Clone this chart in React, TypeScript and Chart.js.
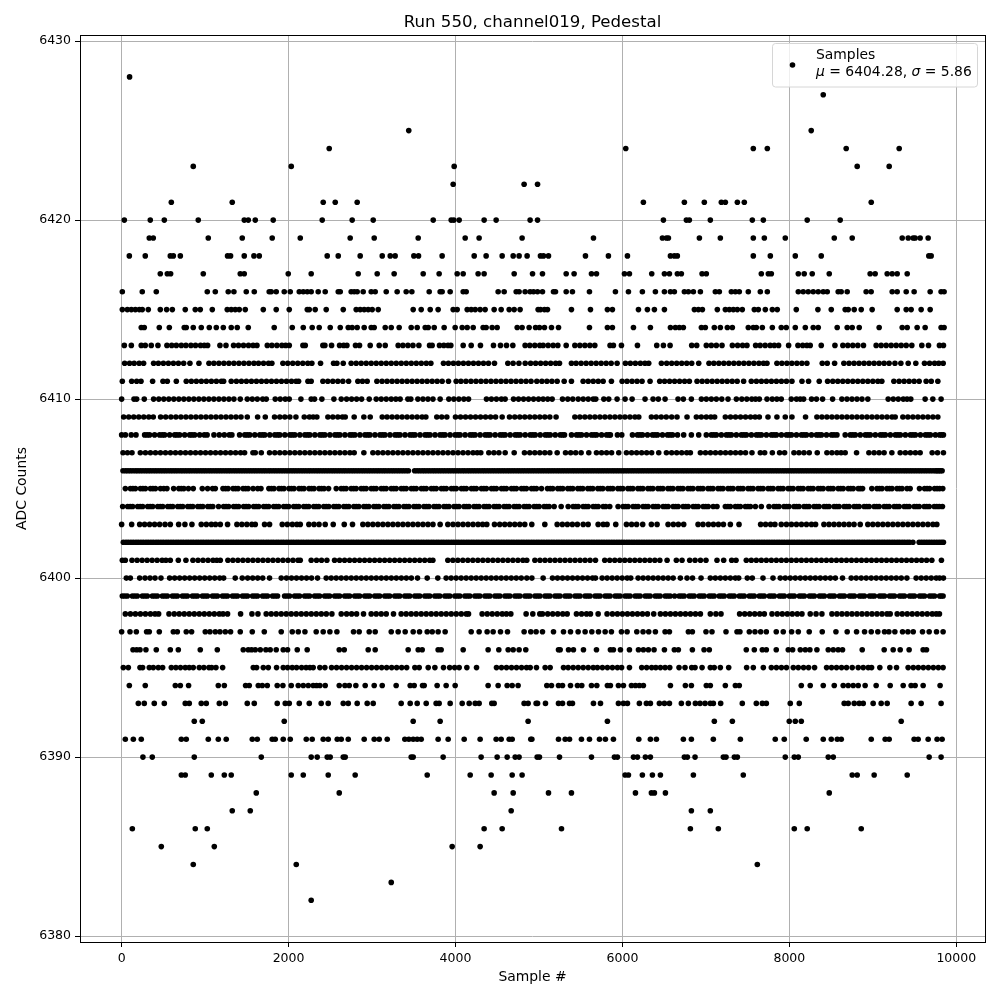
import React, { useEffect, useRef } from "react";
import { Chart, registerables } from "chart.js";

Chart.register(...registerables);

const titleText = "Run 550, channel019, Pedestal";
const xTitle = "Sample #";
const yTitle = "ADC Counts";
const legendLabel = "Samples";
const legendMu = "6404.28";
const legendSigma = "5.86";
const xTicks = [0, 2000, 4000, 6000, 8000, 10000];
const yTicks = [6380, 6390, 6400, 6410, 6420, 6430];

const s6428 = [95];
const s6427 = [8406];
const s6425 = [3440, 8262];
const s6424 = [2487, 6040, 7568, 7736, 8681, 9316];
const s6423 = [858, 2032, 3984, 8813, 9196];
const s6422 = [3972, 4822, 4983];
const s6421 = [595, 1325, 2415, 2559, 2822, 6251, 6742, 6981, 7185, 7233, 7377, 7460, 8981];
const s6420 = [32, 343, 511, 918, 1469, 1517, 1601, 1816, 2403, 2762, 3014, 3733, 3948, 3980, 4044, 4343, 4487, 4894, 4983, 6491, 6766, 6802, 7053, 7556, 7688, 8214, 8609];
const s6419 = [331, 379, 1038, 1445, 1804, 2140, 2738, 3026, 3553, 4116, 4283, 4798, 5653, 6479, 6527, 6551, 6922, 7173, 7568, 7700, 7951, 8538, 8753, 9352, 9424, 9483, 9507, 9567, 9663];
const s6418 = [92, 283, 583, 619, 703, 1269, 1305, 1469, 1585, 1649, 2463, 2595, 2858, 3122, 3218, 3277, 3501, 3557, 3840, 4224, 4367, 4559, 4691, 4762, 4858, 5018, 5054, 5114, 5557, 5832, 6060, 6575, 6622, 6658, 7568, 7772, 8071, 8382, 9671, 9699];
const s6417 = [463, 547, 587, 978, 1421, 1469, 1996, 2271, 2834, 3062, 3265, 3613, 3804, 4020, 4092, 4271, 4343, 4703, 4923, 5042, 5326, 5421, 5629, 5689, 6024, 6084, 6351, 6503, 6563, 6658, 6706, 6954, 7005, 7664, 7748, 7784, 8107, 8178, 8274, 8478, 8968, 9028, 9172, 9232, 9292, 9412];
const s6416 = [8, 247, 415, 1026, 1122, 1277, 1345, 1493, 1589, 1768, 1792, 1852, 1948, 2020, 2128, 2176, 2224, 2271, 2355, 2439, 2595, 2619, 2750, 2786, 2822, 2894, 2990, 3038, 3170, 3301, 3409, 3477, 3685, 3816, 3840, 3936, 4092, 4128, 4511, 4583, 4727, 4762, 4834, 4894, 4935, 4983, 5042, 5174, 5198, 5326, 5401, 5605, 5916, 6072, 6239, 6395, 6503, 6575, 6622, 6742, 6790, 6850, 6934, 7113, 7161, 7305, 7353, 7400, 7508, 7652, 7736, 8107, 8166, 8226, 8286, 8346, 8406, 8454, 8585, 8621, 8693, 8920, 8980, 9232, 9292, 9400, 9495, 9687, 9818, 9854];
const s6415 = [8, 68, 116, 164, 212, 247, 319, 463, 539, 607, 762, 882, 942, 1086, 1265, 1313, 1361, 1409, 1481, 1697, 1852, 2008, 2224, 2248, 2319, 2451, 2655, 2810, 2858, 2906, 2954, 3002, 3074, 3493, 3589, 3697, 3792, 3972, 4020, 4140, 4188, 4236, 4295, 4355, 4463, 4547, 4643, 4703, 4774, 4990, 5018, 5066, 5102, 5389, 5617, 5820, 5880, 6192, 6299, 6383, 6503, 6862, 6910, 6958, 7137, 7233, 7281, 7329, 7377, 7436, 7580, 7628, 7712, 7796, 7855, 8083, 8342, 8502, 8669, 8705, 8777, 8861, 8992, 9292, 9400, 9459, 9579, 9687];
const s6414 = [235, 271, 451, 571, 750, 774, 858, 954, 1050, 1134, 1218, 1313, 1385, 1517, 1828, 2044, 2176, 2283, 2367, 2499, 2619, 2715, 2762, 2822, 2906, 2990, 3026, 3158, 3230, 3325, 3469, 3541, 3637, 3673, 3745, 3864, 3996, 4080, 4140, 4212, 4331, 4367, 4439, 4499, 4739, 4798, 4882, 4959, 5006, 5066, 5150, 5234, 5605, 5820, 5880, 6132, 6335, 6575, 6634, 6682, 6730, 6946, 6993, 7101, 7173, 7257, 7317, 7508, 7568, 7604, 7676, 7796, 7903, 7963, 8071, 8191, 8286, 8346, 8573, 8693, 8753, 8837, 9076, 9352, 9412, 9531, 9627, 9818, 9854];
const s6413 = [32, 116, 235, 283, 355, 435, 543, 600, 655, 715, 770, 830, 885, 945, 990, 1030, 1178, 1250, 1341, 1400, 1460, 1520, 1575, 1621, 1745, 1800, 1860, 1920, 1965, 2008, 2172, 2200, 2411, 2435, 2515, 2611, 2660, 2699, 2802, 2850, 2978, 3086, 3158, 3313, 3370, 3430, 3490, 3561, 3689, 3720, 3808, 3860, 3910, 3944, 4092, 4188, 4299, 4455, 4539, 4611, 4687, 4834, 4890, 4950, 5010, 5050, 5110, 5170, 5226, 5326, 5430, 5490, 5550, 5610, 5669, 5852, 5892, 5988, 6180, 6411, 6491, 6571, 6830, 6890, 7005, 7065, 7125, 7193, 7317, 7380, 7440, 7492, 7596, 7650, 7710, 7770, 7820, 7871, 7991, 8103, 8160, 8210, 8250, 8382, 8546, 8641, 8700, 8760, 8820, 8888, 9040, 9100, 9160, 9220, 9280, 9340, 9400, 9467, 9587, 9667, 9798, 9846];
const s6412 = [36, 95, 150, 210, 263, 383, 440, 500, 560, 620, 680, 743, 818, 926, 1046, 1105, 1165, 1225, 1285, 1345, 1405, 1465, 1525, 1585, 1640, 1700, 1760, 1800, 1932, 1990, 2050, 2110, 2170, 2230, 2279, 2383, 2539, 2579, 2655, 2750, 2810, 2870, 2930, 2990, 3050, 3110, 3170, 3230, 3290, 3350, 3410, 3470, 3530, 3590, 3650, 3705, 3856, 3915, 3975, 4035, 4095, 4155, 4215, 4275, 4335, 4395, 4467, 4627, 4690, 4760, 4835, 4900, 4960, 5020, 5080, 5140, 5200, 5246, 5389, 5445, 5505, 5565, 5625, 5685, 5745, 5805, 5865, 5936, 6036, 6095, 6155, 6215, 6270, 6315, 6467, 6530, 6590, 6650, 6710, 6770, 6830, 6914, 7037, 7095, 7155, 7215, 7275, 7335, 7395, 7455, 7515, 7575, 7635, 7690, 7732, 7851, 7910, 7970, 8030, 8090, 8150, 8210, 8394, 8454, 8542, 8653, 8715, 8775, 8835, 8895, 8955, 9015, 9075, 9135, 9195, 9265, 9336, 9424, 9515, 9619, 9680, 9740, 9790, 9843];
const s6411 = [8, 120, 180, 232, 371, 495, 547, 655, 774, 835, 895, 955, 1015, 1075, 1135, 1195, 1222, 1313, 1375, 1435, 1495, 1555, 1615, 1675, 1735, 1795, 1855, 1915, 1975, 2035, 2090, 2120, 2232, 2271, 2411, 2470, 2530, 2590, 2650, 2719, 2830, 2885, 2942, 3058, 3120, 3180, 3240, 3300, 3360, 3420, 3480, 3540, 3600, 3660, 3720, 3780, 3840, 3916, 4008, 4065, 4125, 4185, 4245, 4305, 4365, 4425, 4485, 4545, 4605, 4665, 4725, 4785, 4845, 4905, 4974, 5035, 5095, 5155, 5218, 5302, 5389, 5529, 5590, 5650, 5710, 5769, 5868, 5996, 6055, 6115, 6175, 6235, 6331, 6447, 6505, 6565, 6625, 6685, 6745, 6802, 6894, 6955, 7015, 7075, 7135, 7195, 7255, 7315, 7375, 7452, 7544, 7605, 7665, 7725, 7785, 7845, 7905, 7965, 8031, 8151, 8230, 8358, 8458, 8520, 8580, 8640, 8700, 8760, 8820, 8880, 8940, 9000, 9060, 9108, 9252, 9315, 9375, 9435, 9495, 9555, 9639, 9700, 9779];
const s6410 = [0, 148, 180, 271, 383, 445, 505, 565, 625, 685, 745, 805, 865, 925, 985, 1045, 1105, 1165, 1225, 1285, 1345, 1421, 1505, 1565, 1625, 1690, 1733, 1840, 1900, 1960, 2008, 2148, 2271, 2311, 2399, 2543, 2631, 2695, 2755, 2815, 2875, 2966, 3050, 3110, 3170, 3230, 3285, 3337, 3429, 3465, 3549, 3610, 3670, 3730, 3816, 3920, 3980, 4040, 4100, 4156, 4371, 4430, 4490, 4550, 4595, 4695, 4755, 4815, 4875, 4935, 4995, 5050, 5105, 5158, 5282, 5345, 5405, 5470, 5530, 5590, 5650, 5681, 5777, 5836, 5936, 6032, 6116, 6271, 6367, 6430, 6511, 6666, 6730, 6826, 6946, 7005, 7065, 7125, 7190, 7265, 7365, 7430, 7490, 7550, 7595, 7640, 7732, 7795, 7850, 7903, 8023, 8085, 8130, 8171, 8266, 8325, 8398, 8518, 8629, 8690, 8750, 8810, 8870, 8940, 9184, 9245, 9305, 9365, 9410, 9455, 9627, 9719, 9818];
const s6409 = [24, 85, 145, 205, 265, 325, 379, 467, 528, 590, 650, 710, 770, 830, 890, 950, 1010, 1070, 1130, 1190, 1250, 1310, 1370, 1430, 1505, 1629, 1721, 1832, 1895, 1955, 2015, 2088, 2188, 2250, 2295, 2339, 2471, 2530, 2590, 2645, 2679, 2786, 2902, 2978, 3122, 3180, 3240, 3300, 3360, 3420, 3480, 3540, 3600, 3645, 3776, 3835, 3896, 4000, 4060, 4120, 4180, 4240, 4300, 4360, 4420, 4480, 4559, 4647, 4710, 4770, 4830, 4890, 4950, 5010, 5070, 5130, 5205, 5430, 5490, 5550, 5610, 5670, 5730, 5790, 5850, 5910, 5970, 6030, 6090, 6150, 6196, 6347, 6405, 6465, 6525, 6590, 6654, 6774, 6886, 6945, 7005, 7060, 7105, 7233, 7295, 7355, 7415, 7475, 7535, 7590, 7640, 7744, 7851, 7951, 8031, 8194, 8330, 8390, 8450, 8510, 8570, 8630, 8690, 8750, 8810, 8870, 8930, 8990, 9050, 9110, 9170, 9230, 9268, 9360, 9420, 9480, 9540, 9600, 9660, 9720, 9779];
const s6408 = [0, 45, 115, 172, 275, 335, 395, 455, 515, 575, 635, 695, 755, 815, 875, 935, 990, 1106, 1170, 1230, 1290, 1321, 1413, 1475, 1535, 1595, 1655, 1715, 1775, 1835, 1895, 1955, 2015, 2075, 2135, 2195, 2255, 2315, 2375, 2435, 2495, 2555, 2615, 2675, 2735, 2795, 2855, 2915, 2975, 3035, 3095, 3155, 3215, 3275, 3335, 3395, 3455, 3515, 3575, 3635, 3695, 3755, 3815, 3875, 3935, 3995, 4055, 4115, 4175, 4235, 4295, 4355, 4415, 4475, 4535, 4595, 4655, 4715, 4775, 4835, 4895, 4955, 5015, 5075, 5135, 5195, 5255, 5306, 5390, 5450, 5510, 5570, 5630, 5690, 5750, 5810, 5856, 5940, 5992, 6120, 6180, 6240, 6300, 6360, 6420, 6480, 6540, 6600, 6660, 6734, 6826, 6914, 7005, 7065, 7125, 7185, 7245, 7305, 7365, 7425, 7485, 7545, 7605, 7665, 7725, 7785, 7845, 7905, 7965, 8025, 8085, 8145, 8205, 8265, 8325, 8385, 8445, 8505, 8570, 8669, 8730, 8790, 8850, 8910, 8970, 9030, 9090, 9150, 9210, 9270, 9330, 9390, 9450, 9510, 9570, 9630, 9690, 9750, 9800, 9846];
const s6408b = [305, 487, 662, 843, 1024, 1505, 1687, 1868, 2044, 2227, 2404, 2586, 2763, 2947, 3126, 3305, 3486, 3664, 3847, 4027, 4205, 4386, 4566, 4744, 4926, 5104, 5283, 5480, 5661, 5840, 6210, 6390, 6570, 7095, 7275, 7455, 7635, 7815, 7995, 8175, 8355, 8535, 8760, 8940, 9120, 9300, 9480, 9660, 9825];
const s6407 = [16, 70, 124, 224, 285, 345, 405, 465, 525, 585, 645, 705, 765, 825, 885, 945, 1005, 1065, 1125, 1185, 1245, 1305, 1365, 1425, 1473, 1573, 1601, 1673, 1772, 1835, 1895, 1955, 2015, 2075, 2135, 2195, 2255, 2315, 2375, 2435, 2495, 2555, 2615, 2675, 2735, 2786, 2902, 3010, 3070, 3130, 3190, 3250, 3310, 3370, 3430, 3490, 3550, 3610, 3670, 3730, 3790, 3850, 3910, 3970, 4030, 4090, 4150, 4210, 4260, 4303, 4399, 4460, 4520, 4595, 4703, 4826, 4890, 4950, 5010, 5070, 5130, 5218, 5318, 5380, 5440, 5505, 5597, 5689, 5750, 5810, 5870, 5956, 6048, 6110, 6170, 6230, 6290, 6350, 6435, 6527, 6590, 6650, 6710, 6770, 6814, 6934, 6995, 7055, 7115, 7175, 7235, 7295, 7355, 7415, 7475, 7552, 7652, 7704, 7796, 7883, 7943, 8055, 8115, 8175, 8238, 8334, 8450, 8510, 8570, 8620, 8669, 8805, 8953, 9015, 9075, 9135, 9228, 9328, 9390, 9450, 9510, 9567, 9711, 9775, 9846];
const s6406 = [16, 76, 136, 196, 256, 316, 376, 436, 496, 556, 616, 676, 736, 796, 856, 916, 976, 1036, 1096, 1156, 1216, 1276, 1336, 1396, 1456, 1516, 1576, 1636, 1696, 1756, 1816, 1876, 1936, 1996, 2056, 2116, 2176, 2236, 2296, 2356, 2416, 2476, 2536, 2596, 2656, 2716, 2776, 2836, 2896, 2956, 3016, 3076, 3136, 3196, 3256, 3316, 3376, 3436, 3510, 3570, 3630, 3690, 3750, 3810, 3870, 3930, 3990, 4050, 4110, 4170, 4230, 4290, 4350, 4410, 4470, 4530, 4590, 4650, 4710, 4770, 4830, 4890, 4950, 5010, 5070, 5130, 5190, 5250, 5310, 5370, 5430, 5490, 5550, 5610, 5670, 5730, 5790, 5850, 5910, 5970, 6030, 6090, 6150, 6210, 6270, 6330, 6390, 6450, 6510, 6570, 6630, 6690, 6750, 6810, 6870, 6930, 6990, 7050, 7110, 7170, 7230, 7290, 7350, 7410, 7470, 7530, 7590, 7650, 7710, 7770, 7830, 7890, 7950, 8010, 8070, 8130, 8190, 8250, 8310, 8370, 8430, 8490, 8550, 8610, 8670, 8730, 8790, 8850, 8910, 8970, 9030, 9090, 9150, 9210, 9270, 9330, 9390, 9450, 9510, 9570, 9630, 9690, 9750, 9790, 9830];
const s6406b = [48, 105, 168, 226, 287, 345, 406, 467, 525, 587, 646, 708, 766, 825, 887, 947, 1005, 1066, 1127, 1186, 1247, 1305, 1366, 1427, 1486, 1546, 1606, 1667, 1725, 1785, 1846, 1907, 1966, 2027, 2086, 2147, 2206, 2265, 2327, 2386, 2446, 2507, 2566, 2626, 2685, 2747, 2806, 2867, 2926, 2985, 3047, 3106, 3165, 3227, 3286, 3346, 3407, 3540, 3601, 3660, 3721, 3780, 3840, 3901, 3960, 4020, 4081, 4141, 4200, 4260, 4321, 4380, 4440, 4501, 4560, 4621, 4680, 4741, 4800, 4861, 4920, 4981, 5040, 5101, 5160, 5221, 5280, 5340, 5401, 5460, 5521, 5580, 5640, 5701, 5760, 5820, 5881, 5940, 6001, 6060, 6120, 6181, 6240, 6301, 6360, 6421, 6480, 6540, 6601, 6660, 6721, 6780, 6840, 6901, 6960, 7021, 7080, 7140, 7201, 7260, 7320, 7381, 7440, 7500, 7561, 7620, 7680, 7741, 7800, 7860, 7921, 7980, 8040, 8101, 8160, 8220, 8281, 8340, 8400, 8461, 8520, 8580, 8641, 8700, 8760, 8821, 8880, 8940, 9001, 9060, 9120, 9181, 9240, 9300, 9361, 9420, 9480, 9541, 9600, 9660, 9721, 9770, 9810];
const s6405 = [44, 105, 165, 225, 285, 345, 405, 465, 543, 623, 685, 745, 800, 858, 966, 1030, 1090, 1122, 1214, 1275, 1335, 1395, 1455, 1515, 1575, 1630, 1669, 1764, 1825, 1885, 1945, 2005, 2065, 2125, 2185, 2245, 2305, 2365, 2425, 2479, 2571, 2630, 2690, 2750, 2810, 2870, 2930, 2990, 3050, 3110, 3170, 3230, 3290, 3350, 3410, 3470, 3530, 3590, 3650, 3710, 3770, 3830, 3890, 3950, 4010, 4070, 4130, 4190, 4250, 4310, 4370, 4430, 4490, 4550, 4610, 4670, 4730, 4790, 4850, 4910, 4970, 5030, 5102, 5165, 5225, 5285, 5345, 5405, 5465, 5525, 5585, 5645, 5705, 5765, 5825, 5885, 5945, 6005, 6065, 6125, 6185, 6245, 6305, 6365, 6425, 6485, 6545, 6605, 6665, 6725, 6785, 6845, 6905, 6965, 7025, 7085, 7145, 7205, 7265, 7325, 7385, 7445, 7505, 7565, 7625, 7685, 7745, 7805, 7865, 7925, 7985, 8045, 8105, 8165, 8225, 8285, 8345, 8405, 8465, 8525, 8585, 8645, 8705, 8765, 8825, 8877, 8988, 9050, 9110, 9170, 9230, 9290, 9350, 9410, 9447, 9559, 9620, 9680, 9740, 9800, 9838];
const s6405b = [135, 255, 375, 505, 715, 1245, 1365, 1485, 1795, 1915, 2035, 2155, 2275, 2395, 2660, 2780, 2900, 3020, 3140, 3260, 3380, 3500, 3620, 3740, 3860, 3980, 4100, 4220, 4340, 4460, 4580, 4700, 4820, 4940, 5135, 5255, 5375, 5495, 5615, 5735, 5855, 5975, 6095, 6215, 6335, 6455, 6575, 6695, 6815, 6935, 7055, 7175, 7295, 7415, 7535, 7655, 7775, 7895, 8015, 8135, 8255, 8375, 8495, 8615, 8735, 8850, 9080, 9200, 9320, 9650, 9770];
const s6404 = [12, 72, 132, 192, 252, 312, 372, 432, 492, 552, 612, 672, 732, 792, 852, 912, 972, 1032, 1092, 1161, 1222, 1282, 1342, 1402, 1462, 1522, 1582, 1642, 1702, 1762, 1822, 1882, 1942, 2002, 2062, 2122, 2182, 2242, 2302, 2362, 2422, 2482, 2542, 2602, 2662, 2722, 2782, 2842, 2902, 2962, 3022, 3082, 3142, 3202, 3262, 3322, 3382, 3442, 3502, 3562, 3622, 3682, 3742, 3802, 3862, 3922, 3982, 4042, 4102, 4162, 4222, 4282, 4342, 4402, 4462, 4522, 4582, 4642, 4702, 4762, 4822, 4882, 4942, 5002, 5062, 5122, 5182, 5266, 5350, 5410, 5470, 5530, 5590, 5650, 5710, 5770, 5848, 5948, 6008, 6068, 6128, 6188, 6248, 6308, 6368, 6428, 6488, 6548, 6608, 6668, 6728, 6788, 6848, 6908, 6968, 7028, 7088, 7133, 7233, 7293, 7353, 7413, 7473, 7533, 7593, 7664, 7756, 7816, 7876, 7936, 7996, 8056, 8116, 8176, 8236, 8296, 8356, 8416, 8476, 8536, 8596, 8656, 8716, 8776, 8836, 8896, 8956, 9016, 9076, 9136, 9196, 9256, 9316, 9376, 9436, 9496, 9556, 9616, 9676, 9736, 9796, 9834];
const s6404b = [102, 222, 342, 462, 582, 702, 822, 942, 1062, 1252, 1372, 1492, 1612, 1732, 1852, 1972, 2092, 2212, 2332, 2452, 2572, 2692, 2812, 2932, 3052, 3172, 3292, 3412, 3532, 3652, 3772, 3892, 4012, 4132, 4252, 4372, 4492, 4612, 4732, 4852, 4972, 5092, 5440, 5560, 5680, 5800, 6038, 6158, 6278, 6398, 6518, 6638, 6758, 6878, 6998, 7263, 7383, 7503, 7846, 7966, 8086, 8206, 8326, 8446, 8566, 8686, 8806, 8926, 9046, 9166, 9286, 9406, 9526, 9646, 9766];
const s6403 = [0, 120, 216, 275, 335, 395, 455, 520, 583, 683, 758, 842, 954, 1015, 1075, 1125, 1182, 1269, 1381, 1440, 1500, 1560, 1601, 1712, 1772, 1924, 1985, 2045, 2100, 2140, 2243, 2305, 2365, 2439, 2535, 2667, 2766, 2890, 2950, 3010, 3070, 3130, 3190, 3250, 3310, 3370, 3430, 3490, 3550, 3610, 3670, 3730, 3816, 3908, 3970, 4030, 4090, 4150, 4210, 4270, 4325, 4375, 4467, 4530, 4590, 4650, 4710, 4770, 4830, 4914, 5070, 5218, 5280, 5340, 5400, 5460, 5530, 5589, 5709, 5770, 5816, 5920, 6048, 6110, 6170, 6243, 6347, 6415, 6547, 6610, 6670, 6734, 6906, 6965, 7030, 7090, 7150, 7210, 7293, 7397, 7656, 7715, 7775, 7827, 7903, 7965, 8025, 8085, 8145, 8205, 8265, 8314, 8414, 8475, 8535, 8595, 8655, 8715, 8775, 8849, 8940, 9000, 9060, 9120, 9180, 9240, 9300, 9360, 9420, 9480, 9540, 9600, 9660, 9720, 9767];
const s6402 = [20, 80, 140, 200, 260, 320, 380, 440, 500, 560, 620, 680, 740, 800, 860, 920, 980, 1040, 1100, 1160, 1220, 1280, 1340, 1400, 1460, 1520, 1580, 1640, 1700, 1760, 1820, 1880, 1940, 2000, 2060, 2120, 2180, 2240, 2300, 2360, 2420, 2480, 2540, 2600, 2660, 2720, 2780, 2840, 2900, 2960, 3020, 3080, 3140, 3200, 3260, 3320, 3380, 3440, 3500, 3560, 3620, 3680, 3740, 3800, 3860, 3920, 3980, 4040, 4100, 4160, 4220, 4280, 4340, 4400, 4460, 4520, 4580, 4640, 4700, 4760, 4820, 4880, 4940, 5000, 5060, 5120, 5180, 5240, 5300, 5360, 5420, 5480, 5540, 5600, 5660, 5720, 5780, 5840, 5900, 5960, 6020, 6080, 6140, 6200, 6260, 6320, 6380, 6440, 6500, 6560, 6620, 6680, 6740, 6800, 6860, 6920, 6980, 7040, 7100, 7160, 7220, 7280, 7340, 7400, 7460, 7520, 7580, 7640, 7700, 7760, 7820, 7880, 7940, 8000, 8060, 8120, 8180, 8240, 8300, 8360, 8420, 8480, 8540, 8600, 8660, 8720, 8780, 8840, 8900, 8960, 9020, 9080, 9140, 9200, 9260, 9320, 9380, 9440, 9480, 9555, 9615, 9675, 9735, 9795, 9846];
const s6402b = [52, 111, 172, 231, 292, 351, 412, 471, 532, 591, 652, 711, 772, 831, 892, 951, 1012, 1071, 1132, 1191, 1252, 1311, 1372, 1431, 1492, 1551, 1612, 1671, 1732, 1791, 1852, 1911, 1972, 2031, 2092, 2151, 2212, 2271, 2332, 2391, 2452, 2511, 2572, 2631, 2692, 2751, 2812, 2871, 2932, 2991, 3052, 3111, 3172, 3231, 3292, 3351, 3412, 3471, 3532, 3591, 3652, 3711, 3772, 3831, 3892, 3951, 4012, 4071, 4132, 4191, 4252, 4311, 4372, 4431, 4492, 4551, 4612, 4671, 4732, 4791, 4852, 4911, 4972, 5031, 5092, 5151, 5212, 5271, 5332, 5391, 5452, 5511, 5572, 5631, 5692, 5751, 5812, 5871, 5932, 5991, 6052, 6111, 6172, 6231, 6292, 6351, 6412, 6471, 6532, 6591, 6652, 6711, 6772, 6831, 6892, 6951, 7012, 7071, 7132, 7191, 7252, 7311, 7372, 7431, 7492, 7551, 7612, 7671, 7732, 7791, 7852, 7911, 7972, 8031, 8092, 8151, 8212, 8271, 8332, 8391, 8452, 8511, 8572, 8631, 8692, 8751, 8812, 8871, 8932, 8991, 9052, 9111, 9172, 9231, 9292, 9351, 9412, 9585, 9646, 9705, 9766, 9822];
const s6401 = [8, 44, 124, 185, 245, 305, 365, 425, 485, 530, 583, 679, 770, 854, 915, 975, 1035, 1095, 1140, 1182, 1273, 1333, 1393, 1453, 1513, 1573, 1633, 1693, 1753, 1813, 1873, 1933, 1993, 2053, 2113, 2140, 2271, 2335, 2395, 2459, 2551, 2611, 2671, 2731, 2791, 2851, 2911, 2971, 3031, 3091, 3151, 3211, 3271, 3331, 3391, 3451, 3511, 3571, 3631, 3691, 3729, 3908, 3968, 4028, 4088, 4148, 4208, 4268, 4328, 4388, 4448, 4508, 4568, 4628, 4688, 4748, 4808, 4854, 4951, 5012, 5072, 5132, 5192, 5252, 5312, 5372, 5432, 5492, 5552, 5612, 5677, 5788, 5848, 5908, 5968, 6028, 6088, 6148, 6208, 6268, 6328, 6388, 6448, 6535, 6646, 6714, 6806, 6870, 6935, 7001, 7133, 7213, 7309, 7361, 7484, 7544, 7604, 7664, 7724, 7784, 7844, 7904, 7964, 8024, 8084, 8144, 8204, 8264, 8324, 8384, 8444, 8504, 8564, 8624, 8684, 8744, 8804, 8864, 8924, 8984, 9044, 9104, 9164, 9224, 9284, 9344, 9404, 9464, 9524, 9584, 9644, 9707, 9822];
const s6400 = [56, 104, 216, 280, 340, 400, 471, 575, 635, 695, 755, 815, 875, 935, 995, 1055, 1115, 1175, 1222, 1361, 1445, 1510, 1570, 1630, 1690, 1772, 1912, 1975, 2035, 2095, 2155, 2215, 2275, 2347, 2451, 2511, 2571, 2631, 2691, 2751, 2811, 2871, 2931, 2991, 3051, 3111, 3171, 3231, 3291, 3351, 3411, 3471, 3545, 3661, 3788, 3888, 3948, 4008, 4068, 4128, 4188, 4248, 4308, 4368, 4428, 4488, 4548, 4608, 4668, 4728, 4788, 4854, 4915, 5050, 5162, 5222, 5282, 5342, 5402, 5462, 5522, 5582, 5642, 5677, 5757, 5817, 5877, 5937, 5997, 6057, 6100, 6188, 6248, 6308, 6368, 6428, 6488, 6548, 6608, 6694, 6774, 6840, 6942, 7053, 7113, 7173, 7233, 7293, 7353, 7393, 7496, 7556, 7684, 7804, 7891, 7951, 8011, 8071, 8131, 8191, 8251, 8311, 8371, 8431, 8491, 8551, 8637, 8741, 8801, 8861, 8921, 8981, 9041, 9101, 9161, 9221, 9281, 9341, 9408, 9519, 9580, 9640, 9700, 9760, 9800, 9846];
const s6399 = [8, 68, 128, 188, 248, 308, 368, 428, 488, 548, 608, 668, 728, 788, 848, 908, 968, 1028, 1088, 1148, 1208, 1268, 1328, 1388, 1448, 1508, 1568, 1628, 1688, 1748, 1808, 1868, 1952, 2012, 2072, 2132, 2192, 2252, 2312, 2372, 2432, 2492, 2552, 2612, 2672, 2732, 2792, 2852, 2912, 2972, 3032, 3092, 3152, 3212, 3272, 3332, 3392, 3452, 3512, 3572, 3632, 3692, 3752, 3812, 3872, 3932, 3992, 4052, 4112, 4172, 4232, 4292, 4352, 4412, 4472, 4532, 4592, 4652, 4712, 4772, 4832, 4892, 4952, 5012, 5072, 5132, 5192, 5252, 5312, 5372, 5432, 5492, 5552, 5612, 5672, 5732, 5792, 5852, 5912, 5972, 6032, 6092, 6152, 6212, 6272, 6332, 6392, 6452, 6512, 6572, 6625, 6680, 6740, 6800, 6860, 6920, 6980, 7040, 7100, 7160, 7220, 7280, 7340, 7400, 7460, 7520, 7580, 7640, 7700, 7760, 7820, 7880, 7940, 8000, 8060, 8120, 8180, 8240, 8300, 8360, 8420, 8480, 8540, 8600, 8660, 8720, 8780, 8840, 8900, 8960, 9020, 9080, 9140, 9200, 9260, 9320, 9380, 9440, 9500, 9560, 9620, 9680, 9740, 9800, 9842];
const s6399b = [38, 158, 278, 398, 518, 638, 758, 878, 998, 1118, 1238, 1358, 1478, 1598, 1718, 1838, 1982, 2102, 2222, 2342, 2462, 2582, 2702, 2822, 2942, 3062, 3182, 3302, 3422, 3542, 3662, 3782, 3902, 4022, 4142, 4262, 4382, 4502, 4622, 4742, 4862, 4982, 5102, 5222, 5342, 5462, 5582, 5702, 5822, 5942, 6062, 6182, 6302, 6422, 6542, 6710, 6830, 6950, 7070, 7190, 7310, 7430, 7550, 7670, 7790, 7910, 8030, 8150, 8270, 8390, 8510, 8630, 8750, 8870, 8990, 9110, 9230, 9350, 9470, 9590, 9710, 9820];
const s6398 = [44, 105, 165, 225, 285, 345, 400, 443, 567, 630, 690, 750, 810, 870, 930, 990, 1050, 1110, 1170, 1215, 1269, 1425, 1561, 1633, 1732, 1792, 1852, 1912, 1972, 2032, 2092, 2152, 2212, 2272, 2332, 2392, 2452, 2519, 2631, 2695, 2755, 2815, 2898, 2990, 3050, 3110, 3170, 3257, 3349, 3409, 3469, 3529, 3589, 3649, 3709, 3769, 3829, 3889, 3949, 4009, 4069, 4129, 4156, 4319, 4380, 4440, 4500, 4560, 4610, 4663, 4846, 4926, 5010, 5042, 5105, 5165, 5225, 5285, 5338, 5449, 5510, 5570, 5617, 5709, 5816, 5880, 5940, 6000, 6060, 6120, 6180, 6240, 6300, 6375, 6455, 6515, 6575, 6635, 6695, 6755, 6815, 6875, 6934, 7053, 7120, 7181, 7404, 7465, 7525, 7585, 7645, 7700, 7792, 7855, 7915, 7975, 8035, 8095, 8151, 8250, 8320, 8390, 8510, 8570, 8630, 8690, 8750, 8810, 8870, 8930, 8990, 9050, 9110, 9170, 9208, 9292, 9352, 9412, 9472, 9532, 9592, 9652, 9712, 9760, 9798];
const s6397 = [0, 100, 176, 299, 331, 451, 619, 667, 774, 838, 1002, 1058, 1122, 1178, 1242, 1305, 1421, 1565, 1709, 1912, 2044, 2116, 2196, 2331, 2415, 2495, 2579, 2778, 2846, 2966, 3038, 3230, 3313, 3397, 3493, 3569, 3661, 3721, 3792, 3876, 4188, 4283, 4379, 4451, 4539, 4623, 4822, 4902, 4966, 5042, 5174, 5294, 5378, 5469, 5553, 5633, 5713, 5793, 5868, 5988, 6056, 6172, 6247, 6315, 6395, 6511, 6563, 6790, 6838, 7001, 7073, 7241, 7373, 7408, 7520, 7588, 7656, 7724, 7843, 7927, 8027, 8107, 8238, 8394, 8558, 8693, 8805, 8901, 8981, 9060, 9140, 9192, 9264, 9356, 9420, 9484, 9595, 9675, 9763, 9842];
const s6396 = [136, 180, 220, 291, 415, 583, 679, 942, 1146, 1457, 1517, 1557, 1601, 1661, 1728, 1780, 1852, 1936, 1988, 2104, 2223, 2607, 2667, 2954, 3038, 3433, 3553, 3601, 3792, 3828, 4092, 4391, 4519, 4631, 4691, 4762, 4842, 5234, 5254, 5354, 5413, 5533, 5689, 5856, 5892, 5976, 6084, 6192, 6251, 6311, 6379, 6503, 6622, 6670, 6838, 6978, 7041, 7484, 7580, 7676, 7724, 7843, 7987, 8039, 8131, 8191, 8246, 8330, 8466, 8526, 8585, 8637, 8873, 9136, 9244, 9328, 9435, 9603, 9643];
const s6395 = [20, 80, 220, 251, 331, 379, 439, 491, 595, 650, 705, 762, 810, 858, 930, 985, 1046, 1078, 1130, 1210, 1577, 1617, 1697, 1757, 1856, 1936, 1988, 2044, 2096, 2156, 2210, 2256, 2295, 2375, 2435, 2515, 2575, 2635, 2695, 2755, 2815, 2875, 2935, 2995, 3055, 3115, 3175, 3235, 3295, 3355, 3415, 3513, 3565, 3673, 3753, 3856, 3930, 3990, 4044, 4136, 4252, 4491, 4551, 4611, 4671, 4731, 4791, 4851, 4970, 4895, 5074, 5134, 5294, 5350, 5410, 5470, 5530, 5590, 5650, 5700, 5760, 5820, 5880, 5940, 5990, 6084, 6231, 6290, 6350, 6400, 6455, 6511, 6567, 6678, 6750, 6830, 6870, 6954, 7053, 7100, 7173, 7273, 7488, 7568, 7688, 7784, 7845, 7905, 7965, 8047, 8107, 8170, 8230, 8302, 8446, 8505, 8565, 8625, 8685, 8753, 8825, 8885, 8945, 8985, 9084, 9204, 9284, 9423, 9485, 9545, 9605, 9665, 9725, 9785, 9842];
const s6394 = [92, 283, 643, 703, 802, 1158, 1230, 1485, 1529, 1637, 1685, 1745, 1864, 1932, 2032, 2116, 2176, 2236, 2295, 2335, 2375, 2439, 2607, 2675, 2727, 2806, 2918, 3026, 3122, 3289, 3457, 3505, 3605, 3625, 3780, 3888, 3996, 4391, 4511, 4619, 4679, 4750, 5094, 5150, 5234, 5282, 5378, 5461, 5513, 5629, 5693, 5820, 5856, 5952, 6012, 6108, 6156, 6203, 6251, 6575, 6754, 6826, 7005, 7053, 7233, 7353, 7400, 8143, 8250, 8406, 8538, 8645, 8705, 8765, 8825, 8908, 9040, 9208, 9364, 9459, 9507, 9603, 9806];
const s6393 = [200, 271, 391, 511, 762, 810, 954, 1014, 1170, 1242, 1505, 1589, 1864, 1960, 2008, 2128, 2248, 2391, 2475, 2655, 2715, 2822, 2942, 3014, 3349, 3457, 3541, 3649, 3768, 3804, 3936, 4080, 4164, 4236, 4283, 4435, 4463, 4822, 4870, 4966, 4983, 5078, 5234, 5282, 5366, 5401, 5653, 5737, 5952, 6012, 6060, 6203, 6287, 6335, 6443, 6503, 6563, 6706, 6790, 6874, 6930, 6990, 7053, 7089, 7177, 7436, 7604, 7676, 7724, 8011, 8119, 8657, 8705, 8777, 8837, 8885, 9004, 9100, 9172, 9459, 9579, 9818];
const s6392 = [870, 966, 1948, 3493, 3816, 4870, 5820, 7101, 7317, 7999, 8071, 8143, 9340];
const s6391 = [44, 140, 235, 715, 774, 1038, 1158, 1253, 1565, 1625, 1804, 1840, 1936, 2020, 2212, 2283, 2415, 2475, 2583, 2631, 2715, 2906, 3026, 3086, 3182, 3393, 3441, 3493, 3541, 3589, 3792, 3912, 4104, 4295, 4487, 4547, 4643, 4679, 4902, 4915, 5234, 5314, 5366, 5509, 5605, 5725, 5796, 5892, 6196, 6335, 6407, 6730, 6826, 7089, 7413, 7831, 7939, 8202, 8406, 8502, 8574, 8622, 8981, 9148, 9196, 9495, 9543, 9663, 9770, 9830];
const s6390 = [255, 367, 870, 1673, 2271, 2343, 2463, 2499, 2655, 2679, 3469, 3493, 3852, 4307, 4499, 4619, 4715, 4762, 4978, 5006, 5246, 5629, 5904, 5940, 6132, 6180, 6275, 6335, 6742, 6778, 6870, 7209, 7241, 7341, 7377, 7951, 8059, 8107, 8466, 8526, 9675, 9818];
const s6389 = [715, 762, 1074, 1230, 1313, 2032, 2176, 2475, 2798, 3661, 4176, 4427, 4679, 4798, 6032, 6072, 6239, 6359, 6455, 6850, 7448, 8753, 8813, 9016, 9412];
const s6388 = [1613, 2607, 4463, 4691, 5114, 5389, 6156, 6347, 6383, 6515, 8478];
const s6387 = [1325, 1541, 4667, 6826, 7053];
const s6386 = [128, 882, 1026, 4343, 4559, 5270, 6814, 7149, 8059, 8214, 8861];
const s6385 = [475, 1110, 3960, 4295];
const s6384 = [858, 2092, 7616];
const s6383 = [3230];
const s6382 = [2271];

const rows: [number, number[]][] = [
  [6428, s6428], [6427, s6427], [6425, s6425], [6424, s6424], [6423, s6423], [6422, s6422], [6421, s6421], [6420, s6420],
  [6419, s6419], [6418, s6418], [6417, s6417], [6416, s6416], [6415, s6415], [6414, s6414], [6413, s6413], [6412, s6412],
  [6411, s6411], [6410, s6410], [6409, s6409], [6408, s6408], [6408, s6408b], [6407, s6407], [6406, s6406], [6406, s6406b],
  [6405, s6405], [6405, s6405b], [6404, s6404], [6404, s6404b], [6403, s6403], [6402, s6402], [6402, s6402b], [6401, s6401],
  [6400, s6400], [6399, s6399], [6399, s6399b], [6398, s6398], [6397, s6397], [6396, s6396],
  [6395, s6395], [6394, s6394], [6393, s6393], [6392, s6392], [6391, s6391], [6390, s6390], [6389, s6389], [6388, s6388],
  [6387, s6387], [6386, s6386], [6385, s6385], [6384, s6384], [6383, s6383], [6382, s6382],
];

const FONT = '"DejaVu Sans"';

const framePlugin = {
  id: "frameAndLegend",
  afterDatasetsDraw(chart: any) {
    const { ctx, chartArea: a } = chart;
    ctx.save();
    ctx.strokeStyle = "#000";
    ctx.lineWidth = 1;
    ctx.strokeRect(Math.round(a.left) + 0.5, Math.round(a.top) + 0.5, Math.round(a.right - a.left), Math.round(a.bottom - a.top));
    // title, centred over the plot area
    ctx.fillStyle = "#000";
    ctx.textBaseline = "alphabetic";
    ctx.textAlign = "center";
    ctx.font = `16.6px ${FONT}`;
    ctx.fillText(titleText, (a.left + a.right) / 2, 27);
    // legend box
    const x = 772.5, y = 43.5, w = 205, h = 43.5, r = 3;
    ctx.beginPath();
    ctx.roundRect(x, y, w, h, r);
    ctx.fillStyle = "rgba(255,255,255,0.8)";
    ctx.fill();
    ctx.strokeStyle = "#d6d6d6";
    ctx.stroke();
    ctx.fillStyle = "#000";
    ctx.beginPath();
    ctx.arc(792.5, 65, 2.8, 0, Math.PI * 2);
    ctx.fill();
    ctx.textAlign = "left";
    ctx.font = `13.9px ${FONT}`;
    ctx.fillText(legendLabel, 816, 59);
    let tx = 816;
    const baseline = 76;
    const put = (t: string, italic: boolean) => {
      ctx.font = `${italic ? "italic " : ""}13.9px ${FONT}`;
      ctx.fillText(t, tx, baseline);
      tx += ctx.measureText(t).width;
    };
    put("\u03bc", true);
    put(` = ${legendMu}, `, false);
    put("\u03c3", true);
    put(` = ${legendSigma}`, false);
    ctx.restore();
  },
};

export default function App() {
  const ref = useRef<HTMLCanvasElement | null>(null);
  useEffect(() => {
    const points: { x: number; y: number }[] = [];
    for (const [level, xs] of rows) for (const x of xs) points.push({ x, y: level });
    const chart = new Chart(ref.current as HTMLCanvasElement, {
      type: "scatter",
      data: {
        datasets: [
          { label: legendLabel, data: points, backgroundColor: "#000", borderWidth: 0, pointRadius: 2.8, pointHoverRadius: 2.8 },
        ],
      },
      options: {
        animation: false,
        responsive: false,
        devicePixelRatio: 1,
        layout: { padding: { left: 0, right: 15, top: 35, bottom: 0 } },
        plugins: {
          legend: { display: false },
          tooltip: { enabled: false },
          title: { display: false },
        },
        scales: {
          x: {
            type: "linear",
            min: -499,
            max: 10344,
            afterBuildTicks: (s: any) => { s.ticks = xTicks.map((value) => ({ value })); },
            afterFit: (s: any) => { s.height = 58; },
            grid: { color: "#b0b0b0", lineWidth: 1, tickColor: "#000", tickLength: 5, drawTicks: true },
            border: { display: false },
            ticks: { color: "#000", font: { family: FONT, size: 12.5 }, maxRotation: 0, padding: 4, callback: (v: any) => String(v) },
            title: { display: true, text: xTitle, color: "#000", font: { family: FONT, size: 13.9 }, padding: { top: 6, bottom: 14 } },
          },
          y: {
            type: "linear",
            min: 6379.67,
            max: 6430.34,
            afterBuildTicks: (s: any) => { s.ticks = yTicks.map((value) => ({ value })); },
            afterFit: (s: any) => { s.width = 80; },
            grid: { color: "#b0b0b0", lineWidth: 1, tickColor: "#000", tickLength: 5, drawTicks: true },
            border: { display: false },
            ticks: { color: "#000", font: { family: FONT, size: 12.5 }, padding: 4, callback: (v: any) => String(v) },
            title: { display: true, text: yTitle, color: "#000", font: { family: FONT, size: 13.9 }, padding: { top: 14, bottom: 6 } },
          },
        },
      },
      plugins: [framePlugin],
    } as any);
    return () => chart.destroy();
  }, []);
  return <canvas ref={ref} width={1000} height={1000} style={{ position: "absolute", left: 0, top: 0, display: "block" }} />;
}
